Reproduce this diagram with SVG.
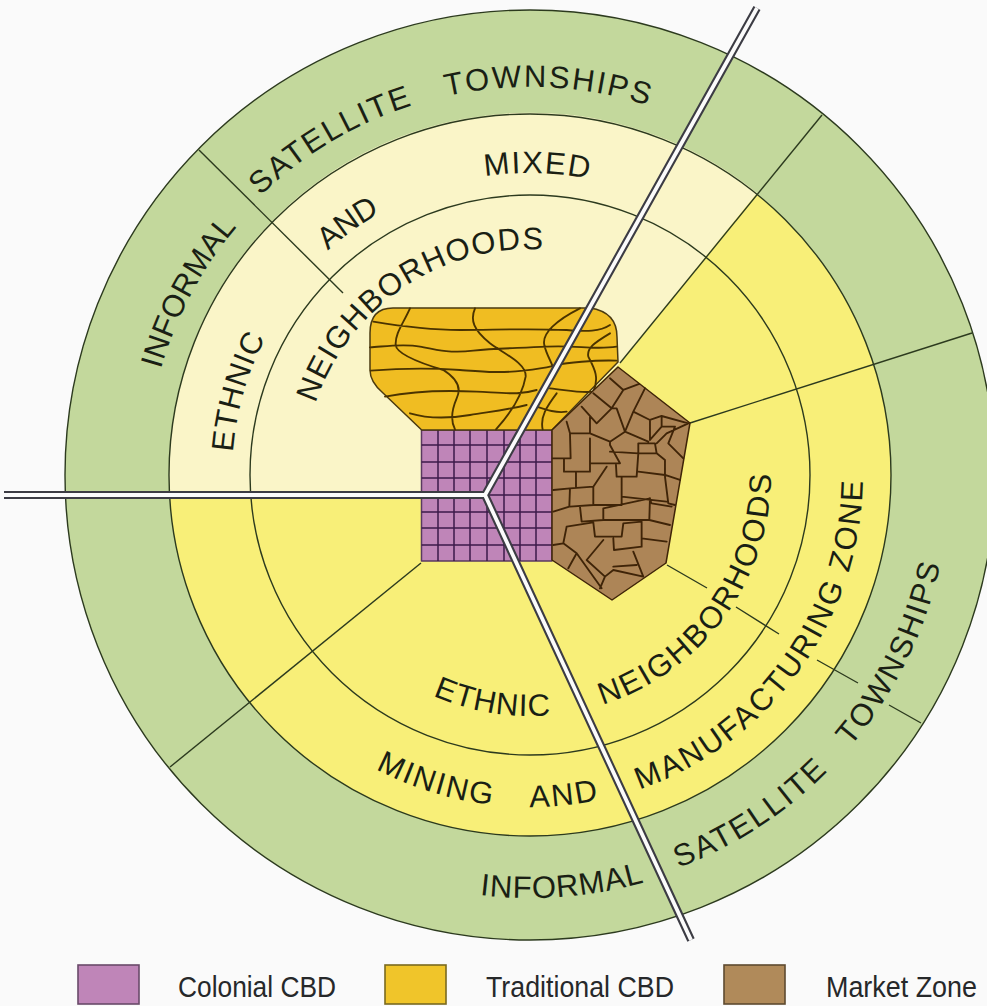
<svg xmlns="http://www.w3.org/2000/svg" width="987" height="1006" viewBox="0 0 987 1006">
<style>
.ring{stroke:#2c3a1e;stroke-width:1.4}
.sec{fill:none;stroke:#2c3a1e;stroke-width:1.4}
.lb{font-family:"Liberation Sans",Arial,sans-serif;font-size:31px;fill:#1a1f14}
.lg{font-family:"Liberation Sans",Arial,sans-serif;font-size:29px;fill:#26282a}
.swatch{stroke-width:1.6}
.zone{stroke-linejoin:round;stroke-width:1.5}
.net{fill:none;stroke-linejoin:round;stroke-linecap:round;stroke-width:5.6}
</style>
<defs>
<path id="p1" d="M260.5,195.9A388,388 0 0 1 779.4,177.8"/>
<path id="p2" d="M160.9,369.2A384,384 0 0 1 338,142.4"/>
<path id="p3" d="M232.9,452.1A298,298 0 0 1 338.5,246.7"/>
<path id="p4" d="M327.9,250.6A302,302 0 0 1 477.6,177.6"/>
<path id="p5" d="M484.8,176.4A302,302 0 0 1 681,213.5"/>
<path id="p6" d="M315.7,403.3A226,226 0 0 1 643,279.3"/>
<path id="p7" d="M432.8,695.5A241,241 0 0 0 631.8,693.4"/>
<path id="p8" d="M375.7,769A332,332 0 0 0 696,762.5"/>
<path id="p9" d="M479.9,895A423,423 0 0 0 741.5,841.3"/>
<path id="p10" d="M602.5,704.8A241,241 0 0 0 767.3,433.2"/>
<path id="p11" d="M639.5,789.5A333,333 0 0 0 857.9,417.2"/>
<path id="p12" d="M678.5,867.9A420,420 0 0 0 943.6,402.1"/>
</defs>
<rect width="987" height="1006" fill="#fafafa"/>
<g id="rings">
<circle class="ring" cx="530" cy="475" r="465" fill="#c3d89c"/>
<circle cx="530" cy="475" r="361" fill="#f8ef78"/>
<path d="M169.6,495A361,361 0 0 1 757,193L620,363L486,495Z" fill="#faf5c8"/>
<circle class="ring" cx="530" cy="475" r="361" fill="none"/>
<circle class="ring" cx="530" cy="475" r="280" fill="none"/>
</g>
<g id="connectors">
<path class="sec" d="M199,150L343,293"/>
<path class="sec" d="M822,115L620,363"/>
<path class="sec" d="M972,333L690,423"/>
<path class="sec" d="M667,565L707,588M736,607L779,634M817,660L858,683M889,705L921,723"/>
<path class="sec" d="M170,767L421,563"/>
</g>
<g id="colonial-cbd">
<rect class="zone" x="421.5" y="430" width="130.5" height="131" fill="#bf85b8" stroke="#5a3a60"/>
<path d="M438,430V561M454,430V561M470,430V561M487,430V561M504,430V561M520,430V561M536,430V561M421.5,445H552M421.5,462H552M421.5,478H552M421.5,495H552M421.5,512H552M421.5,528H552M421.5,545H552" fill="none" stroke="#3d1a4a" stroke-width="1.5"/>
</g>
<g id="traditional-cbd">
<path class="zone" d="M421.7,430L383,393Q370,382 370,370V333Q370,308 393,308H590Q617,312 617,337L618,362L552,430Z" fill="#f0bd22" stroke="#4a3a10"/>
<g transform="translate(360 290) scale(.3333)">
<path class="net" stroke="#4a3300" d="M40,95C100,105 200,120 300,120S500,115 620,120C680,125 720,125 750,105M30,172C70,170 130,160 180,170S270,190 340,182S470,175 560,170S700,180 770,170M32,242C120,235 230,235 300,240S420,250 490,242S560,232 590,225S700,210 770,212M75,320C150,305 250,300 350,305S480,315 530,300M570,295C620,300 660,310 700,305M150,370C200,385 270,385 330,375S440,360 500,345M530,350C560,360 590,370 620,365M150,55C130,100 105,130 107,165C110,195 200,225 250,240C290,265 305,295 290,325C275,360 270,390 285,418M345,55C330,90 340,120 390,160C430,190 500,220 497,260C490,300 470,350 408,418M660,55C590,90 545,130 553,165C560,200 585,230 580,245M590,310C560,350 540,380 548,418M750,130C700,160 680,175 685,200C700,230 720,260 700,305"/>
</g>
</g>
<g id="market-zone">
<path class="zone" d="M552,430L618,367L690,423L666,563L612,600L552,560Z" fill="#ad8557" stroke="#3f2408"/>
<g transform="translate(360 290) scale(.3333)">
<path class="net" stroke="#3f2408" d="M750,265L790,300M700,310L755,355L710,400L665,350M755,355L790,300L838,282M855,295L820,365L795,425L770,355L755,355M820,365L870,390L905,378L985,400M870,390L870,450M905,378L905,410L870,450M905,410L945,410M985,400L920,430L890,460M945,410L925,460L970,505M795,425L750,455M795,425L865,455M690,380L690,430L750,455M620,395L630,430L690,430M630,432L632,505L578,505M612,505L612,545L690,545L690,445M690,520L780,520L750,465L750,455M750,485L835,490L835,460L885,460L890,490L835,490M835,490L830,560L770,560L768,525M890,490L915,510L915,555L835,545M915,555L960,570M915,560L925,640L945,645M785,560L785,620L920,635M740,530L700,590L630,595L580,600M648,548L648,590M630,595L628,650L580,665M700,590L700,645L785,645L785,620M630,650L700,645M660,650L665,695L730,690L730,655M730,655L870,625L868,690L730,690M868,625L875,640L935,650M868,690L930,705M620,710L700,697L705,740L785,740L790,700L845,695L845,745L920,755M620,710L610,760L580,765M610,760L650,790L625,835M730,750L680,810L735,860L720,895M650,790L725,895M760,745L762,780L845,770L845,745M820,785L850,860L760,840L735,860M760,830L830,825"/>
</g>
</g>
<g id="roads">
<path d="M4,495H485L757,8M485,495L691,940" fill="none" stroke="#3c3c44" stroke-width="8" stroke-linejoin="miter"/>
<path d="M4,495H485L757,8M485,495L691,940" fill="none" stroke="#fbfbfb" stroke-width="3.8" stroke-linejoin="miter"/>
</g>
<g id="labels">
<text class="lb" letter-spacing="2.1" word-spacing="23"><textPath href="#p1">SATELLITE TOWNSHIPS</textPath></text>
<text class="lb" letter-spacing="0.3"><textPath href="#p2">INFORMAL</textPath></text>
<text class="lb" letter-spacing="0.8"><textPath href="#p3">ETHNIC</textPath></text>
<text class="lb" letter-spacing="-0.5"><textPath href="#p4">AND</textPath></text>
<text class="lb" letter-spacing="1.5"><textPath href="#p5">MIXED</textPath></text>
<text class="lb" letter-spacing="1.3"><textPath href="#p6">NEIGHBORHOODS</textPath></text>
<text class="lb" letter-spacing="1"><textPath href="#p7">ETHNIC</textPath></text>
<text class="lb" letter-spacing="2" word-spacing="27"><textPath href="#p8">MINING AND</textPath></text>
<text class="lb" letter-spacing="0.8"><textPath href="#p9">INFORMAL</textPath></text>
<text class="lb" letter-spacing="2.2"><textPath href="#p10">NEIGHBORHOODS</textPath></text>
<text class="lb" letter-spacing="2.35"><textPath href="#p11">MANUFACTURING ZONE</textPath></text>
<text class="lb" letter-spacing="2.2" word-spacing="21"><textPath href="#p12">SATELLITE TOWNSHIPS</textPath></text>
</g>
<g id="legend-colonial">
<rect class="swatch" x="78" y="965" width="61" height="39" fill="#bf85b8" stroke="#6a4a6a"/>
<text class="lg" x="178" y="997" textLength="158" lengthAdjust="spacingAndGlyphs">Colonial CBD</text>
</g>
<g id="legend-traditional">
<rect class="swatch" x="385" y="965" width="61" height="39" fill="#f0c52a" stroke="#7a6a20"/>
<text class="lg" x="486" y="997" textLength="188" lengthAdjust="spacingAndGlyphs">Traditional CBD</text>
</g>
<g id="legend-market">
<rect class="swatch" x="724" y="965" width="61" height="39" fill="#b08a5a" stroke="#5e4a30"/>
<text class="lg" x="826" y="997" textLength="151" lengthAdjust="spacingAndGlyphs">Market Zone</text>
</g>
</svg>
